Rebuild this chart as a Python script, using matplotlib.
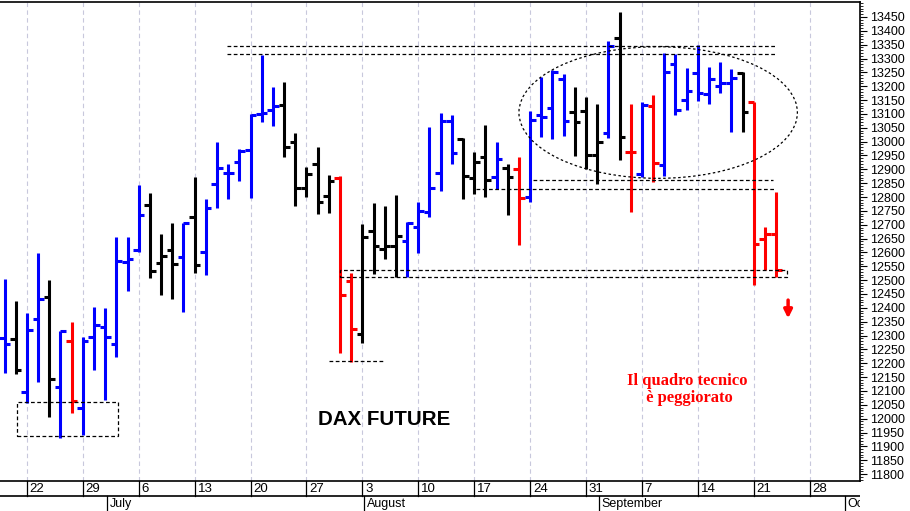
import matplotlib
matplotlib.use("Agg")
import matplotlib.pyplot as plt
from matplotlib.patches import Ellipse, Rectangle
from matplotlib.ticker import MultipleLocator
import numpy as np
import pandas as pd

# DAX future daily bars, 18 Jun - 23 Sep 2020
dates = pd.bdate_range("2020-06-18", "2020-09-23")
opens = [12291, 12288, 12095, 12359, 12438, 12115, 12281, 12037, 12296, 12330,
         12270, 12567, 12609, 12771, 12563, 12609, 12582, 12727, 12603, 12846,
         12886, 12925, 12970, 13099, 13114, 13132, 13000, 12832, 12919, 12804,
         12868, 12498, 12306, 12679, 12611, 12623, 12642, 12693, 12747, 12888,
         13076, 13008, 12868, 12944, 12871, 12904, 12900, 12801, 13096, 13120,
         13225, 13108, 13112, 12952, 13030, 13373, 12964, 12883, 13129, 12916,
         13280, 13150, 13249, 13172, 13201, 13213, 13249, 13144, 12647, 12667]
highs = [12504, 12426, 12380, 12597, 12501, 12318, 12350, 12294, 12402, 12398,
         12655, 12657, 12844, 12814, 12667, 12707, 12707, 12873, 12792, 12998,
         12918, 12973, 13099, 13313, 13198, 13216, 13032, 12910, 12980, 12880,
         12876, 12527, 12703, 12777, 12768, 12807, 12711, 12783, 13052, 13105,
         13096, 13012, 12964, 13060, 13000, 12919, 12944, 13112, 13234, 13259,
         13244, 13198, 13162, 13136, 13364, 13469, 13136, 13144, 13168, 13321,
         13316, 13265, 13349, 13271, 13289, 13261, 13253, 13144, 12691, 12819]
lows = [12165, 12161, 12055, 12133, 12007, 11929, 12019, 11941, 12176, 12067,
        12224, 12462, 12603, 12507, 12446, 12431, 12386, 12525, 12519, 12759,
        12793, 12858, 12796, 13070, 13057, 12944, 12768, 12801, 12739, 12741,
        12238, 12206, 12272, 12522, 12575, 12510, 12510, 12597, 12727, 12823,
        12919, 12792, 12811, 12799, 12828, 12735, 12627, 12783, 13016, 13009,
        13020, 12948, 12900, 12847, 13012, 12934, 12747, 12873, 12855, 12876,
        13096, 13114, 13148, 13136, 13175, 13036, 13036, 12483, 12537, 12513]
closes = [12270, 12176, 12320, 12431, 12142, 12318, 12065, 12281, 12338, 12296,
          12570, 12575, 12735, 12534, 12587, 12557, 12707, 12555, 12759, 12904,
          12886, 12966, 13096, 13102, 13129, 12982, 12832, 12883, 12783, 12859,
          12446, 12323, 12655, 12623, 12623, 12659, 12705, 12750, 12832, 13076,
          12960, 12876, 12928, 12862, 12936, 12871, 12795, 13078, 13090, 13253,
          13076, 13072, 12952, 13000, 13345, 13018, 12964, 13132, 12924, 13253,
          13114, 13184, 13177, 13225, 13212, 13229, 13108, 12631, 12667, 12537]
# b = blue, k = black, r = red (ten bars per group)
colors = list("bkbbkbrbbb" "bbbkkkbkbb" "bbbbbkkkkk" "rrkkkkbbbb"
              "bkkkbkrbbb" "bkkkbkrbrb" "bbbbbbkrrr")
color_map = {"b": "#0000ff", "k": "#000000", "r": "#ff0000"}

# calendar for the bottom date strip
calendar = pd.bdate_range("2020-06-18", "2020-10-05")
week_labels = ["22", "29", "6", "13", "20", "27", "3", "10", "17", "24", "31", "7", "14", "21", "28"]
month_labels = ["July", "August", "September", "October"]

# drawn support / resistance levels
top_band = (13316, 13345)
mid_band = (12828, 12862)
low_box = (12510, 12537)
aug_low = 12208
june_box = (11937, 12061)

fig = plt.figure(figsize=(9.1, 5.11), dpi=100)
ax = fig.add_axes([0, 30 / 511, 860 / 910, 479 / 511])
x = np.arange(len(dates))
lw = 2.2
tick = 0.5
for i in x:
    c = color_map[colors[i]]
    ax.plot([i, i], [lows[i], highs[i]], color=c, lw=lw, solid_capstyle="butt", zorder=3)
    ax.plot([i - tick, i], [opens[i], opens[i]], color=c, lw=lw, solid_capstyle="butt", zorder=3)
    ax.plot([i, i + tick], [closes[i], closes[i]], color=c, lw=lw, solid_capstyle="butt", zorder=3)

ax.set_xlim(-0.41, 76.5)
ax.set_ylim(11775, 13504)

mondays = [k for k, d in enumerate(calendar) if d.weekday() == 0]
for m in mondays:
    ax.axvline(m, color="#c8c8dc", lw=0.8, ls=(0, (4, 3)), zorder=0)

dash = dict(color="black", lw=0.9, ls=(0, (3, 2)), zorder=4)
for yv in top_band:
    ax.plot([19.9, 69.0], [yv, yv], **dash)
ax.plot([47.3, 68.7], [mid_band[1], mid_band[1]], **dash)
ax.plot([42.2, 69.0], [mid_band[0], mid_band[0]], **dash)
ax.add_patch(Rectangle((30.0, low_box[0]), 40.0, low_box[1] - low_box[0], fill=False, **dash))
ax.plot([29.0, 34.0], [aug_low, aug_low], **dash)
ax.add_patch(Rectangle((1.1, june_box[0]), 9.0, june_box[1] - june_box[0], fill=False, **dash))
ax.add_patch(Ellipse((58.45, 13105), 24.9, 475, fill=False, color="black", lw=0.9, ls=(0, (2, 2)), zorder=4))

ax.annotate("", xy=(70.07, 12362), xytext=(70.07, 12428),
            arrowprops=dict(arrowstyle="-|>", color="red", lw=2.5, mutation_scale=12, shrinkA=0, shrinkB=0))

ax.text(33.9, 11998, "DAX FUTURE", fontsize=14.8, fontweight="bold", family="Liberation Sans",
        ha="center", va="center")
ax.text(61.05, 12105, "Il quadro tecnico\n è peggiorato", fontsize=12, fontweight="bold",
        family="Liberation Serif", color="red", ha="center", va="center", linespacing=1.05)

ax.yaxis.tick_right()
ax.set_yticks(np.arange(11800, 13451, 50))
ax.yaxis.set_minor_locator(MultipleLocator(10))
ax.tick_params(axis="y", which="major", length=5, width=0.8, pad=2, labelsize=9)
ax.tick_params(axis="y", which="minor", length=2.5, width=0.6)
for lab in ax.get_yticklabels():
    lab.set_family("Liberation Sans")
ax.set_xticks([])
ax.spines["left"].set_visible(False)
for s in ["right", "top", "bottom"]:
    ax.spines[s].set_linewidth(1.2)

# date strip
ax2 = fig.add_axes([0, 0, 860 / 910, 30 / 511])
ax2.set_xlim(-0.41, 76.5)
ax2.set_ylim(0, 30)
ax2.axis("off")
ax2.axhline(15, color="black", lw=1.2)
narrow = ["Liberation Sans Narrow", "Liberation Sans"]
for m, lab in zip(mondays, week_labels):
    ax2.plot([m, m], [15, 30], color="black", lw=0.9)
    ax2.text(m + 0.25, 22.5, lab, fontsize=9.5, family=narrow, va="center", ha="left")
month_starts = [k for k in range(1, len(calendar)) if calendar[k].month != calendar[k - 1].month]
for k, lab in zip(month_starts, month_labels):
    ax2.plot([k + 0.15, k + 0.15], [0, 15], color="black", lw=0.9)
    ax2.text(k + 0.4, 7, lab, fontsize=9, family=narrow, va="center", ha="left", clip_on=True)

fig.savefig("out.png", dpi=100)
